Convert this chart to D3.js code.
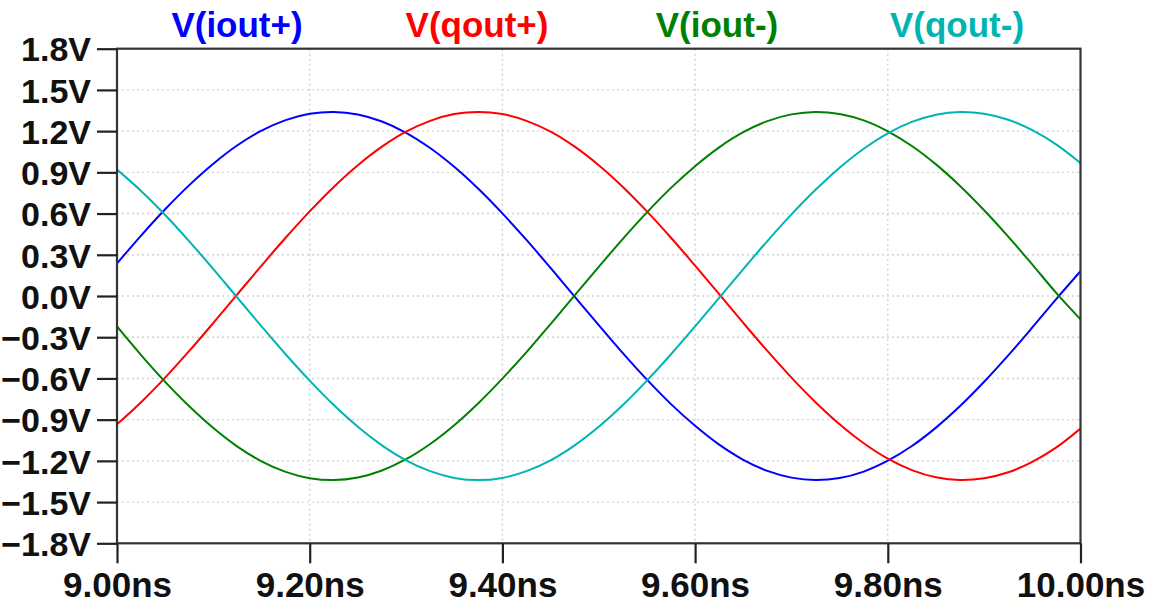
<!DOCTYPE html>
<html>
<head>
<meta charset="utf-8">
<script src="https://cdn.jsdelivr.net/npm/d3@7"></script>
<style>
  html, body { margin: 0; padding: 0; background: #fff; }
  svg { display: block; }
  text { font-family: "Liberation Sans", Arial, sans-serif; font-weight: bold; }
</style>
</head>
<body>
<svg id="chart" width="1155" height="606"></svg>
<script>
// Sample times (ns), 25 ps step from 9.00 ns to 10.00 ns
const timeNs = d3.range(41).map(k => +(9 + k * 0.025).toFixed(3));

// Node voltages (V) at each sample time
const ioutPlus = [0.237, 0.440, 0.631, 0.807, 0.963, 1.097, 1.203, 1.280, 1.326, 1.340,
  1.321, 1.270, 1.188, 1.077, 0.940, 0.780, 0.601, 0.408, 0.204, -0.004,
  -0.212, -0.416, -0.609, -0.787, -0.945, -1.082, -1.192, -1.273, -1.322, -1.340,
  -1.325, -1.278, -1.199, -1.092, -0.958, -0.801, -0.624, -0.432, -0.229, -0.021,
  0.180];
const qoutPlus = [-0.934, -0.773, -0.594, -0.400, -0.196, 0.013, 0.221, 0.424, 0.616, 0.794,
  0.952, 1.087, 1.196, 1.275, 1.324, 1.340, 1.324, 1.275, 1.196, 1.087,
  0.952, 0.794, 0.616, 0.424, 0.221, 0.013, -0.196, -0.400, -0.594, -0.773,
  -0.934, -1.072, -1.184, -1.267, -1.320, -1.340, -1.327, -1.283, -1.207, -1.102,
  -0.965];
const ioutMinus = [-0.222, -0.430, -0.625, -0.803, -0.961, -1.096, -1.203, -1.280, -1.326, -1.340,
  -1.321, -1.270, -1.188, -1.077, -0.940, -0.780, -0.601, -0.408, -0.204, 0.004,
  0.212, 0.416, 0.609, 0.787, 0.945, 1.082, 1.192, 1.273, 1.322, 1.340,
  1.325, 1.278, 1.199, 1.092, 0.958, 0.801, 0.624, 0.432, 0.229, 0.021,
  -0.170];
const qoutMinus = [0.920, 0.765, 0.590, 0.398, 0.196, -0.013, -0.221, -0.424, -0.616, -0.794,
  -0.952, -1.087, -1.196, -1.275, -1.324, -1.340, -1.324, -1.275, -1.196, -1.087,
  -0.952, -0.794, -0.616, -0.424, -0.221, -0.013, 0.196, 0.400, 0.594, 0.773,
  0.934, 1.072, 1.184, 1.267, 1.320, 1.340, 1.327, 1.283, 1.207, 1.102,
  0.968];

const seriesNames = ["V(iout+)", "V(qout+)", "V(iout-)", "V(qout-)"];
const seriesValues = [ioutPlus, qoutPlus, ioutMinus, qoutMinus];
const seriesColors = ["#0000ff", "#ff0000", "#008000", "#00b4b4"];

const yTicks = [1.8, 1.5, 1.2, 0.9, 0.6, 0.3, 0.0, -0.3, -0.6, -0.9, -1.2, -1.5, -1.8];
const xTicks = [9.0, 9.2, 9.4, 9.6, 9.8, 10.0];

const plot = { left: 117, right: 1080.5, top: 48.7, bottom: 543.3 };

const svg = d3.select("#chart");
const x = d3.scaleLinear().domain([9.0, 10.0]).range([plot.left, plot.right]);
const y = d3.scaleLinear().domain([-1.8, 1.8]).range([plot.bottom, plot.top]);

// Dotted grid
const grid = svg.append("g")
  .attr("stroke", "#d2d2d2").attr("stroke-width", 1.4).attr("stroke-dasharray", "2,3");
grid.selectAll("line.h").data(yTicks.filter(v => Math.abs(v) < 1.75)).join("line")
  .attr("x1", plot.left).attr("x2", plot.right)
  .attr("y1", d => y(d)).attr("y2", d => y(d));
grid.selectAll("line.v").data(xTicks.filter(v => v > 9.01 && v < 9.99)).join("line")
  .attr("y1", plot.top).attr("y2", plot.bottom)
  .attr("x1", d => x(d)).attr("x2", d => x(d));

// Traces
svg.append("clipPath").attr("id", "plotClip").append("rect")
  .attr("x", plot.left).attr("y", plot.top)
  .attr("width", plot.right - plot.left).attr("height", plot.bottom - plot.top);

const line = d3.line()
  .x((d, i) => x(timeNs[i]))
  .y(d => y(d))
  .curve(d3.curveCatmullRom.alpha(0.5));

svg.append("g").attr("clip-path", "url(#plotClip)")
  .selectAll("path").data(seriesValues).join("path")
  .attr("fill", "none")
  .attr("stroke", (d, i) => seriesColors[i])
  .attr("stroke-width", 2)
  .attr("d", line);

// Frame
svg.append("rect")
  .attr("x", plot.left).attr("y", plot.top)
  .attr("width", plot.right - plot.left).attr("height", plot.bottom - plot.top)
  .attr("fill", "none").attr("stroke", "#333").attr("stroke-width", 2.2);

// Y axis
const yAxis = d3.axisLeft(y)
  .tickValues(yTicks)
  .tickSize(20)
  .tickPadding(6)
  .tickFormat(d => d3.format(".1f")(d) + "V");
const gy = svg.append("g").attr("transform", `translate(${plot.left},0)`).call(yAxis);
gy.select(".domain").remove();
gy.selectAll(".tick line").attr("stroke", "#222").attr("stroke-width", 2.2);
gy.selectAll(".tick text").attr("fill", "#111").attr("font-size", 34)
  .attr("dy", "0.36em");

// X axis
const xAxis = d3.axisBottom(x)
  .tickValues(xTicks)
  .tickSize(20)
  .tickPadding(6)
  .tickFormat(d => d3.format(".2f")(d) + "ns");
const gx = svg.append("g").attr("transform", `translate(0,${plot.bottom})`).call(xAxis);
gx.select(".domain").remove();
gx.selectAll(".tick line").attr("stroke", "#222").attr("stroke-width", 2.2);
gx.selectAll(".tick text").attr("fill", "#111").attr("font-size", 35)
  .attr("dy", "0.78em");

// Trace names across the top
const legendX = d3.scalePoint().domain(seriesNames).range([237, 957]);
svg.append("g").selectAll("text").data(seriesNames).join("text")
  .attr("x", d => legendX(d))
  .attr("y", 37)
  .attr("text-anchor", "middle")
  .attr("font-size", 35)
  .attr("fill", (d, i) => seriesColors[i])
  .text(d => d);
</script>
</body>
</html>
